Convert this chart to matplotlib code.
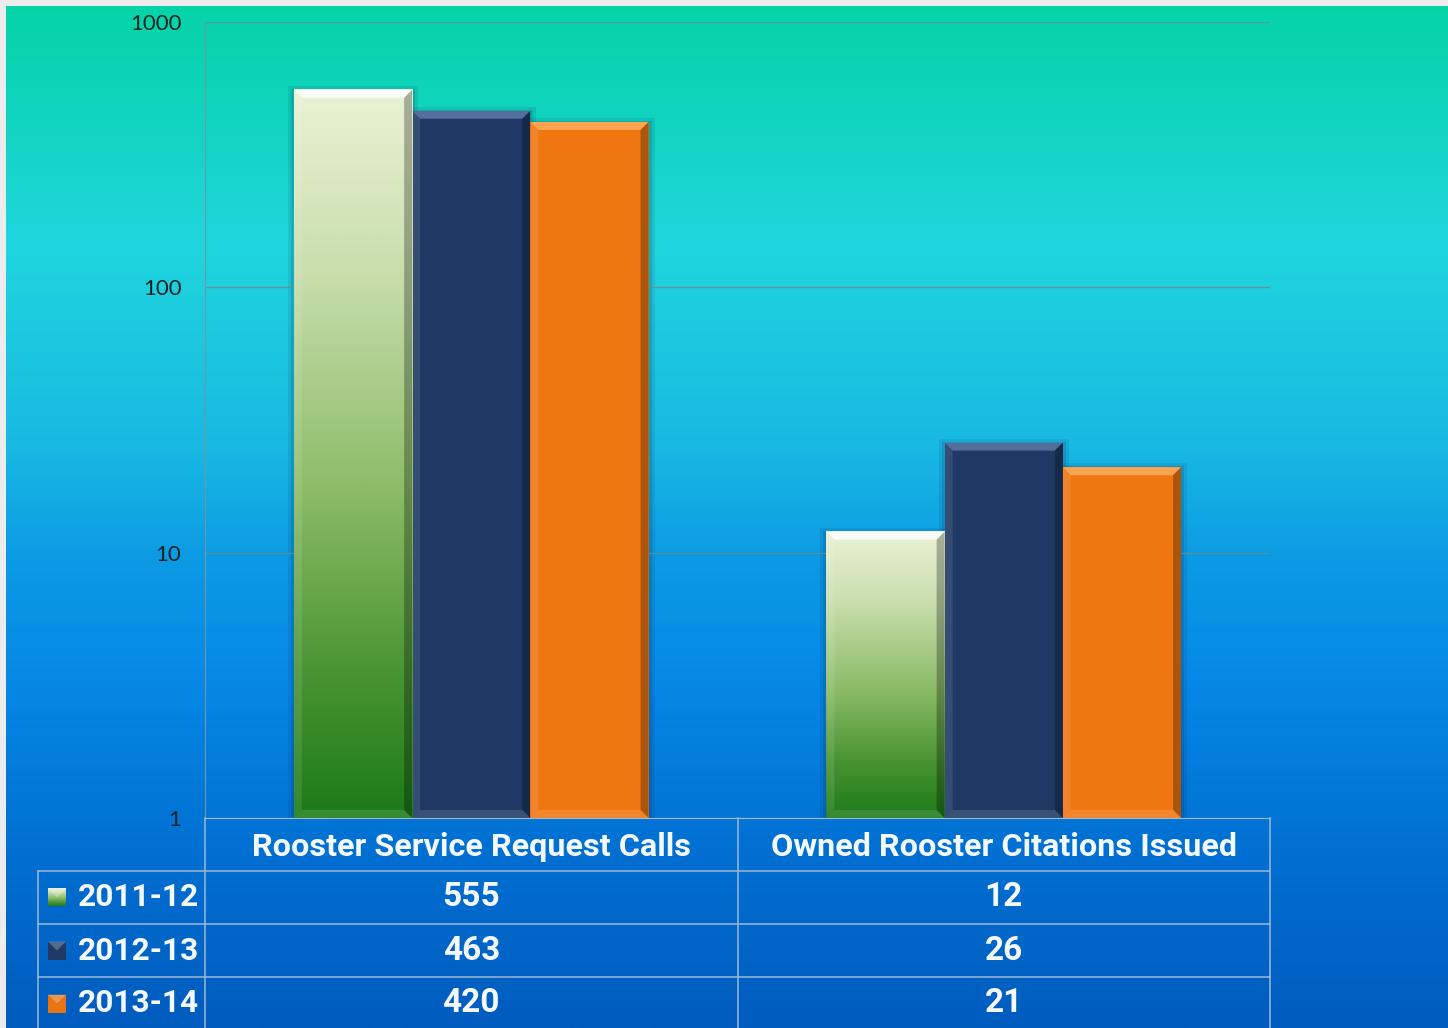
import numpy as np
import matplotlib
matplotlib.use("Agg")
import matplotlib.pyplot as plt
from matplotlib import font_manager
from matplotlib.colors import LinearSegmentedColormap
from matplotlib.patches import Polygon, Rectangle

# ---------------- data ----------------
categories = ["Rooster Service Request Calls", "Owned Rooster Citations Issued"]
series_names = ["2011-12", "2012-13", "2013-14"]
values_2011_12 = [555, 12]
values_2012_13 = [463, 26]
values_2013_14 = [420, 21]
yticks = [1, 10, 100, 1000]
ytick_labels = ["1", "10", "100", "1000"]

series_values = [values_2011_12, values_2012_13, values_2013_14]
series_colors = ["#5a9a3c", "#1f3964", "#f07612"]

# ---------------- fonts ----------------
avail = {f.name for f in font_manager.fontManager.ttflist}
if "Roboto" in avail:
    tfont = "Roboto"
else:
    tfont = "Lato"
tick_font = "Lato" if "Lato" in avail else "DejaVu Sans"

W, H = 1448, 1028
fig = plt.figure(figsize=(W / 100, H / 100), dpi=100)

# ---------------- background ----------------
bg = fig.add_axes([0, 0, 1, 1], zorder=0)
bg.set_xlim(0, W)
bg.set_ylim(0, H)
bg.axis("off")
bg.add_patch(Rectangle((0, 0), W, H, color="#ececec", zorder=0))
stops_y = [6, 243, 450, 560, 682, 850, 1028]
stops_c = ["#05d3a7", "#20d6de", "#18b8e2", "#0c9ae4", "#0688e6", "#0070d2", "#005cbe"]
bg_cmap = LinearSegmentedColormap.from_list(
    "bg", [((y - 6) / (1028 - 6), c) for y, c in zip(stops_y, stops_c)])
grad = np.linspace(0, 1, 512).reshape(-1, 1)
bg.imshow(grad, cmap=bg_cmap, extent=[6, W, 0, H - 6], aspect="auto",
          origin="upper", zorder=1, interpolation="bilinear")
bg.set_xlim(0, W)
bg.set_ylim(0, H)

# ---------------- main axes ----------------
ax_left, ax_right, ax_top, ax_bot = 205, 1270, 22, 818
ax = fig.add_axes([ax_left / W, (H - ax_bot) / H, (ax_right - ax_left) / W,
                   (ax_bot - ax_top) / H], zorder=1)
ax.patch.set_alpha(0)
ax.set_yscale("log")
ax.set_ylim(1, 1000)
ax.set_xlim(-0.5, 1.5)
ax.set_yticks(yticks, ytick_labels)
ax.yaxis.set_minor_locator(matplotlib.ticker.NullLocator())
ax.set_xticks([])
ax.tick_params(axis="y", length=0, pad=17, labelsize=16, labelcolor="#0d2424")
for lab in ax.get_yticklabels():
    lab.set_fontfamily(tick_font)
ax.yaxis.grid(True, color="#5f8f98", lw=1.0, alpha=0.85)
ax.set_axisbelow(True)
for s in ["top", "right"]:
    ax.spines[s].set_visible(False)
ax.spines["left"].set_color("#6f98a2")
ax.spines["bottom"].set_color("#a0b8d0")

x = np.arange(len(categories))
width = 0.222
bar_groups = []
for i, (vals, col) in enumerate(zip(series_values, series_colors)):
    bars = ax.bar(x + (i - 1) * width, vals, width, color=col, linewidth=0, zorder=3)
    bar_groups.append(bars)

# ---------------- overlay (pixel coords) ----------------
ov = fig.add_axes([0, 0, 1, 1], zorder=2)
ov.patch.set_alpha(0)
ov.axis("off")

green_cmap = LinearSegmentedColormap.from_list(
    "g", [(0, "#eaf2d6"), (0.25, "#c8deac"), (0.55, "#8cbc68"), (0.8, "#4a9434"), (1, "#1c7a18")])

light = {0: ("#ffffff", 0.8), 1: ("#6a86b4", 0.7), 2: ("#fbb060", 0.8)}
b = 8
for i, bars in enumerate(bar_groups):
    for p in bars:
        xl = p.get_x()
        xr = xl + p.get_width()
        X0, Y0 = ax.transData.transform((xl, 1))
        X1, Y1 = ax.transData.transform((xr, p.get_height()))
        # soft shadow behind
        for k, a in [(6, 0.10), (3, 0.15)]:
            bg.add_patch(Rectangle((X0 - k, Y0), X1 - X0 + 2 * k, Y1 - Y0 + k - 2,
                                   color="#062a5a", alpha=a, lw=0, zorder=2))
        if i == 0:
            ov.imshow(grad, cmap=green_cmap, extent=[X0, X1, Y0, Y1], aspect="auto",
                      origin="upper", zorder=1, interpolation="bilinear")
        lc, la = light[i]
        ov.add_patch(Polygon([(X0, Y1), (X1, Y1), (X1 - b, Y1 - b), (X0 + b, Y1 - b)],
                             closed=True, color=lc, alpha=la, lw=0, zorder=2))
        ov.add_patch(Polygon([(X1, Y1), (X1, Y0), (X1 - b, Y0 + b), (X1 - b, Y1 - b)],
                             closed=True, color="#000000", alpha=0.28, lw=0, zorder=2))
        ov.add_patch(Polygon([(X0, Y1), (X0 + b, Y1 - b), (X0 + b, Y0 + b), (X0, Y0)],
                             closed=True, color="#ffffff", alpha=0.10, lw=0, zorder=2))
        ov.add_patch(Polygon([(X0, Y0), (X1, Y0), (X1 - b, Y0 + b), (X0 + b, Y0 + b)],
                             closed=True, color="#ffffff", alpha=0.12, lw=0, zorder=2))

# ---------------- data table ----------------
line_c = "#9fb8d4"
Xl = 38
Xa = ax.transData.transform((-0.5, 1))[0]
Xm = ax.transData.transform((0.5, 1))[0]
Xb = ax.transData.transform((1.5, 1))[0]
Ytop = H - ax_bot
rh = 53
row_lines = [Ytop - rh * (k + 1) for k in range(len(series_names))]
for yl in row_lines:
    ov.plot([Xl, Xb], [yl, yl], color=line_c, lw=1.1, zorder=3)
ov.plot([Xl, Xl], [row_lines[0], 0], color=line_c, lw=1.1, zorder=3)
for xv in [Xa, Xm, Xb]:
    ov.plot([xv, xv], [Ytop, 0], color=line_c, lw=1.1, zorder=3)

txt_c = "#f4f8ff"
for j, cat in enumerate(categories):
    cx = ax.transData.transform((x[j], 1))[0]
    ov.text(cx, Ytop - rh / 2 - 2, cat, ha="center", va="center", color=txt_c,
            fontsize=23.3, fontweight="bold", family=tfont, zorder=4)
    for i, vals in enumerate(series_values):
        ov.text(cx, Ytop - rh * (i + 1.5), str(vals[j]), ha="center", va="center",
                color=txt_c, fontsize=24, fontweight="bold", family=tfont, zorder=4)

key_cols = [None, "#1f3964", "#e87414"]
for i, name in enumerate(series_names):
    yc = Ytop - rh * (i + 1.5)
    if i == 0:
        ov.imshow(grad, cmap=green_cmap, extent=[48, 66, yc - 9, yc + 9], aspect="auto",
                  origin="upper", zorder=3)
    else:
        ov.add_patch(Rectangle((48, yc - 9), 18, 18, color=key_cols[i], lw=0, zorder=3))
    ov.add_patch(Polygon([(48, yc + 9), (66, yc + 9), (57, yc)], closed=True,
                         color="#ffffff", alpha=0.25, lw=0, zorder=3.5))
    ov.text(78, yc, name, ha="left", va="center", color=txt_c, fontsize=22.8,
            fontweight="bold", family=tfont, zorder=4)

ov.set_xlim(0, W)
ov.set_ylim(0, H)

fig.savefig("out.png", dpi=100)
